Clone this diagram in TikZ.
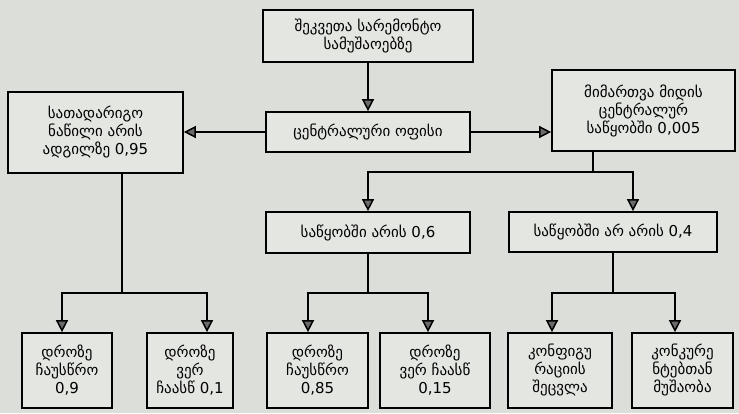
\documentclass[tikz,border=0pt]{standalone}
\usepackage{fontspec}
\setmainfont{DejaVu Sans}
\usetikzlibrary{calc, arrows.meta, positioning}
\definecolor{PaperColor}{HTML}{DCDEDA}
\definecolor{BoxColor}{HTML}{E4E6E2}
\definecolor{TipColor}{HTML}{6A6A6A}
\tikzstyle{stage_box}=[rectangle,
        draw=black,
        line width=1.7pt,
        fill=BoxColor,
        align=center,
        inner sep=2pt,
        font=\fontsize{15}{18}\selectfont, ]
\tikzstyle{flow_arrow}=[-{Triangle[width=12pt,length=12pt,fill=TipColor]}, line width=1.5pt]
\tikzstyle{flow_line}=[-, line width=1.5pt]

\begin{document}
\begin{tikzpicture}[x=1pt, y=-1pt]
    \fill[PaperColor] (0,0) rectangle (739,413);
    \useasboundingbox (0,0) rectangle (739,413);

    % upper part
    \node at (368, 36) (order) [stage_box, minimum width=210, minimum height=52] {შეკვეთა სარემონტო\\სამუშაოებზე};
    \node at (368, 132) (office) [stage_box, minimum width=204, minimum height=40] {ცენტრალური ოფისი};
    \node at (95.5, 132.5) (spare) [stage_box, minimum width=175, minimum height=81] {სათადარიგო\\ნაწილი არის\\ადგილზე 0,95};
    \node at (643.5, 110.5) (request) [stage_box, minimum width=183, minimum height=81] {მიმართვა მიდის\\ცენტრალურ\\საწყობში 0,005};
    \node at (368, 232.5) (instock) [stage_box, minimum width=204, minimum height=41] {საწყობში არის 0,6};
    \node at (613, 232) (nostock) [stage_box, minimum width=208, minimum height=40] {საწყობში არ არის 0,4};

    % lower row
    \node at (67, 370.5) (ontime_a) [stage_box, minimum width=90, minimum height=75] {დროზე\\ჩაუსწრო\\0,9};
    \node at (190, 370.5) (late_a) [stage_box, minimum width=86, minimum height=75] {დროზე\\ვერ\\ჩაასწ 0,1};
    \node at (317.5, 370.5) (ontime_b) [stage_box, minimum width=101, minimum height=75] {დროზე\\ჩაუსწრო\\0,85};
    \node at (435, 370.5) (late_b) [stage_box, minimum width=110, minimum height=75] {დროზე\\ვერ ჩაასწ\\0,15};
    \node at (560, 370.5) (reconfig) [stage_box, minimum width=104, minimum height=75] {კონფიგუ\\რაციის\\შეცვლა};
    \node at (682.5, 370.5) (rivals) [stage_box, minimum width=101, minimum height=75] {კონკურე\\ნტებთან\\მუშაობა};

    \coordinate [] (split_left) at (122, 293);
    \coordinate [] (split_right) at (593, 172);
    \coordinate [] (split_in) at (368, 293);
    \coordinate [] (split_out) at (613, 293);

    \draw[flow_arrow] (order) -- (office);
    \draw[flow_arrow] (office.west) -- (spare.east |- office.west);
    \draw[flow_arrow] (office.east) -- (request.west |- office.east);

    \draw[flow_line] (request.south -| split_right) -- (split_right);
    \draw[flow_arrow] (split_right) -| (instock.north);
    \draw[flow_arrow] (split_right) -| ($(nostock.north)+(20,0)$);

    \draw[flow_line] (spare.south -| split_left) -- (split_left);
    \draw[flow_arrow] (split_left) -| ($(ontime_a.north)+(-5,0)$);
    \draw[flow_arrow] (split_left) -| ($(late_a.north)+(17,0)$);

    \draw[flow_line] (instock) -- (split_in);
    \draw[flow_arrow] (split_in) -| ($(ontime_b.north)+(-9.5,0)$);
    \draw[flow_arrow] (split_in) -| ($(late_b.north)+(-7,0)$);

    \draw[flow_line] (nostock) -- (split_out);
    \draw[flow_arrow] (split_out) -| ($(reconfig.north)+(-8,0)$);
    \draw[flow_arrow] (split_out) -| ($(rivals.north)+(-7.5,0)$);

\end{tikzpicture}
\end{document}
